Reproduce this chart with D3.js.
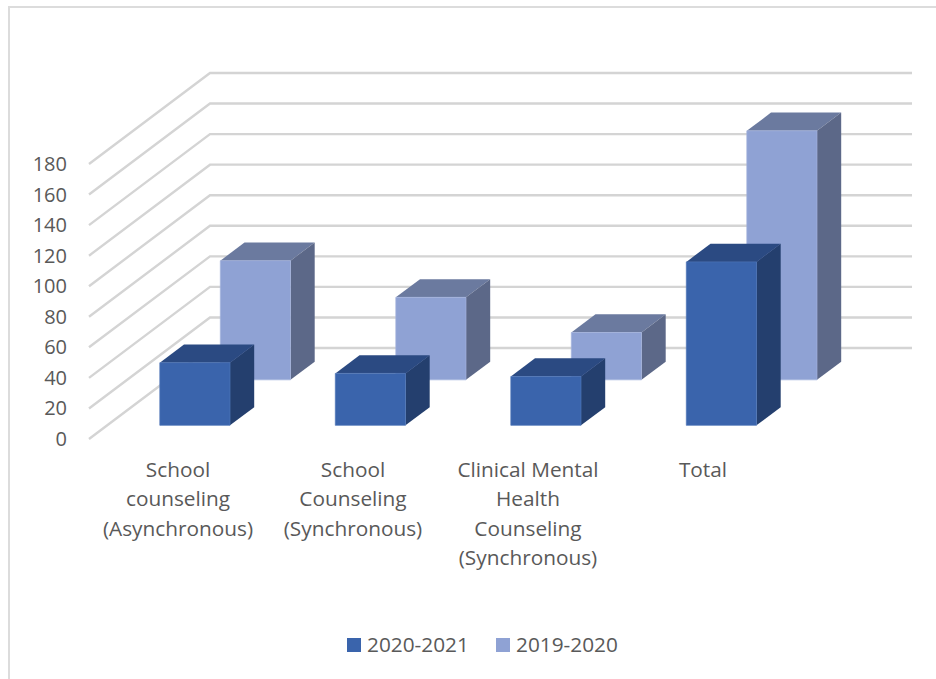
<!DOCTYPE html>
<html><head><meta charset="utf-8">
<style>html,body{margin:0;padding:0;background:#fff}svg{display:block}text{font-family:"Open Sans",sans-serif;fill:#595959}</style>
<script src="https://cdn.jsdelivr.net/npm/d3@7/dist/d3.min.js"></script>
</head><body><svg id="c" width="936" height="679"></svg>
<script>
const categories = [
  ["School","counseling","(Asynchronous)"],
  ["School","Counseling","(Synchronous)"],
  ["Clinical Mental","Health","Counseling","(Synchronous)"],
  ["Total"]
];
const seriesNames = ["2020-2021","2019-2020"];
const values2021 = [41,34,32,107];
const values2020 = [78,54,31,163];
const yTicks = [0,20,40,60,80,100,120,140,160,180];
const fronts = ["#3A64AC","#8FA2D4"], sides = ["#243F6E","#5C6888"], tops = ["#2B4A82","#6B7A9F"];
const strokes = ["#4F76B8","#A3B3DC"];

const svg = d3.select("#c");
svg.append("path").attr("d","M9,679V7H936").attr("fill","none").attr("stroke","#dcdcdc").attr("stroke-width",2);

const y = d3.scaleLinear().domain([0,180]).range([439,164]);
const x = d3.scaleBand().domain(d3.range(4)).range([89,791]).paddingInner(0.6).paddingOuter(0.3);
const depth = d3.scaleBand().domain(d3.range(2)).range([0,1]).paddingInner(0.6).paddingOuter(0.3);
const DX = 121, DY = -91, RIGHT = 912;

const g = svg.append("g");
g.selectAll("path.grid").data(yTicks).join("path").attr("class","grid")
  .attr("d",v=>`M${x.range()[0]},${y(v)}L${x.range()[0]+DX},${y(v)+DY}L${RIGHT},${y(v)+DY}`)
  .attr("fill","none").attr("stroke","#d4d4d4").attr("stroke-width",2.4);

svg.selectAll("text.yt").data(yTicks).join("text").attr("class","yt")
  .attr("x",67).attr("y",v=>y(v)).attr("dy","0.35em").attr("text-anchor","end")
  .attr("font-size",20).text(v=>v);

function bar(parent,cat,s,val){
  const d0 = depth(s), w = depth.bandwidth();
  const xl = x(cat)+d0*DX, xr = xl+x.bandwidth();
  const yb = y(0)+d0*DY, yt = y(val)+d0*DY;
  const dx = w*DX, dy = w*DY;
  const gb = parent.append("g").attr("stroke-linejoin","round");
  gb.append("path").attr("fill",tops[s]).attr("d",`M${xl},${yt}L${xl+dx},${yt+dy}L${xr+dx},${yt+dy}L${xr},${yt}Z`);
  gb.append("path").attr("fill",sides[s]).attr("d",`M${xr},${yt}L${xr+dx},${yt+dy}L${xr+dx},${yb+dy}L${xr},${yb}Z`);
  gb.append("path").attr("fill",fronts[s]).attr("stroke",strokes[s]).attr("stroke-width",0.7).attr("d",`M${xl},${yt}L${xr},${yt}L${xr},${yb}L${xl},${yb}Z`);
}
const bars = svg.append("g");
[values2020,values2021].forEach((vals,i)=>{
  const s = 1-i;
  vals.forEach((v,c)=>bar(bars,c,s,v));
});

const labelX = d3.scalePoint().domain(d3.range(4)).range([178,703]);
categories.forEach((lines,c)=>{
  lines.forEach((t,i)=>{
    svg.append("text").attr("x",labelX(c)).attr("y",477+i*29.3).attr("text-anchor","middle").attr("font-size",20.8).text(t);
  });
});

const legX = [347,496], legT=[367,516];
seriesNames.forEach((n,i)=>{
  svg.append("rect").attr("x",legX[i]).attr("y",638).attr("width",14).attr("height",14).attr("fill",fronts[i]);
  svg.append("text").attr("x",legT[i]).attr("y",652).attr("font-size",20.8).text(n);
});
</script></body></html>
